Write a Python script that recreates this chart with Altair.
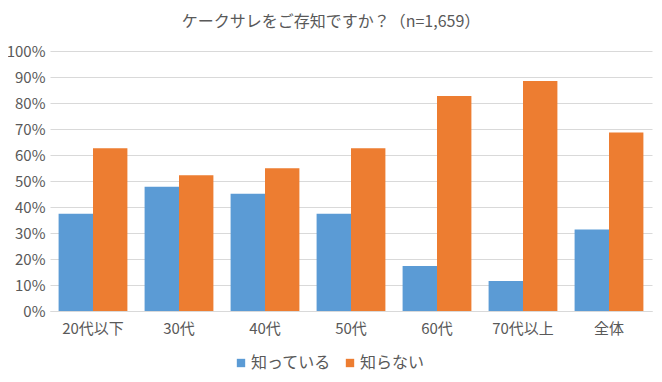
import altair as alt
import pandas as pd

categories = ["20代以下", "30代", "40代", "50代", "60代", "70代以上", "全体"]
series_names = ["知っている", "知らない"]
know = [37.4, 47.8, 45.1, 37.4, 17.3, 11.5, 31.3]
dont_know = [62.6, 52.2, 54.9, 62.6, 82.7, 88.5, 68.7]
colors = ["#5B9BD5", "#ED7D31"]
y_ticks = [0, 10, 20, 30, 40, 50, 60, 70, 80, 90, 100]

rows = []
for c, a, b in zip(categories, know, dont_know):
    rows.append({"cat": c, "series": series_names[0], "value": a})
    rows.append({"cat": c, "series": series_names[1], "value": b})
df = pd.DataFrame(rows)

FONT = "Noto Sans CJK JP"
GRAY = "#595959"

chart = alt.Chart(df).mark_bar().encode(
    x=alt.X("cat:N", sort=categories, title=None,
            scale=alt.Scale(paddingInner=0.2, paddingOuter=0.1),
            axis=alt.Axis(labelAngle=0, ticks=False, domainColor="#D9D9D9",
                          labelColor=GRAY, labelFontSize=15, labelFont=FONT,
                          labelPadding=10)),
    xOffset=alt.XOffset("series:N", sort=series_names),
    y=alt.Y("value:Q", title=None,
            scale=alt.Scale(domain=[0, 100], nice=False),
            axis=alt.Axis(values=y_ticks, labelExpr="datum.value + '%'",
                          domain=False, ticks=False, gridColor="#D9D9D9",
                          labelColor=GRAY, labelFontSize=15, labelFont=FONT,
                          labelPadding=5)),
    color=alt.Color("series:N", sort=series_names,
                    scale=alt.Scale(domain=series_names, range=colors),
                    legend=alt.Legend(title=None, orient="none", direction="horizontal",
                                      legendX=183, legendY=304,
                                      symbolType="square", symbolSize=70,
                                      symbolStrokeWidth=0,
                                      labelFont=FONT, labelFontSize=16,
                                      labelColor=GRAY, columnPadding=10,
                                      labelOffset=2)),
).properties(
    width=602, height=260,
    title=alt.TitleParams("ケークサレをご存知ですか？（n=1,659）", font=FONT,
                          fontSize=16, color=GRAY, fontWeight="normal",
                          anchor="middle", dx=-20, offset=14),
    autosize=alt.AutoSizeParams(type="none"),
    padding={"left": 42, "top": 43, "right": 2, "bottom": 63},
).configure_view(stroke=None)

chart.save("out.html", embed_options={"renderer": "svg", "actions": False})
